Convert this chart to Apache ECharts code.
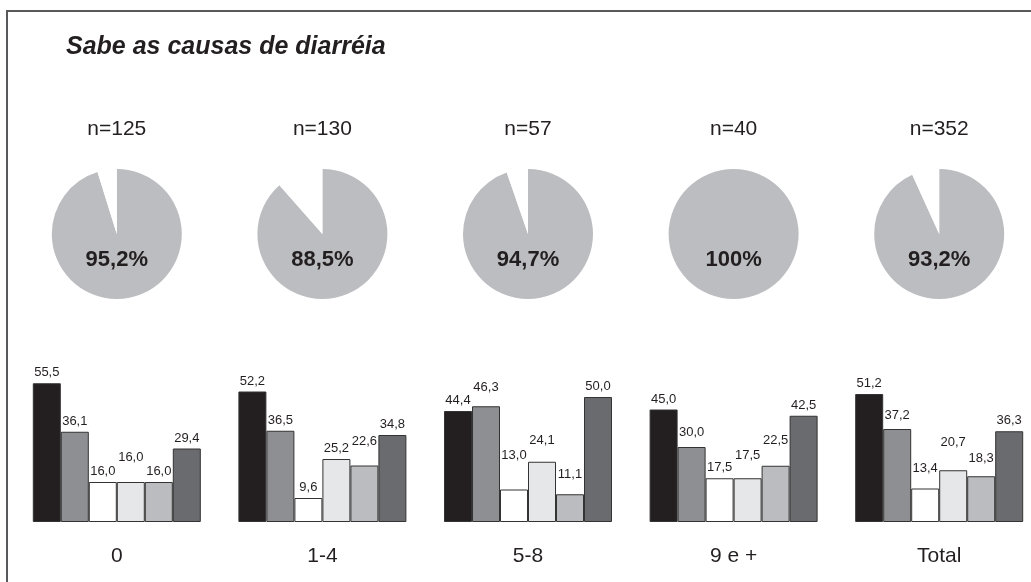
<!DOCTYPE html>
<html>
<head>
<meta charset="utf-8">
<script src="https://cdn.jsdelivr.net/npm/echarts@6/dist/echarts.min.js"></script>
<style>html,body{margin:0;padding:0;background:#fff;}#c{width:1031px;height:582px;}</style>
</head>
<body>
<div id="c"></div>
<script>
// ---- data ----
var titleText = 'Sabe as causas de diarréia';
var categories = ['0', '1-4', '5-8', '9 e +', 'Total'];
var nLabels = ['n=125', 'n=130', 'n=57', 'n=40', 'n=352'];
var piePercent = [95.2, 88.5, 94.7, 100, 93.2];
var s1 = [55.5, 52.2, 44.4, 45.0, 51.2];
var s2 = [36.1, 36.5, 46.3, 30.0, 37.2];
var s3 = [16.0, 9.6, 13.0, 17.5, 13.4];
var s4 = [16.0, 25.2, 24.1, 17.5, 20.7];
var s5 = [16.0, 22.6, 11.1, 22.5, 18.3];
var s6 = [29.4, 34.8, 50.0, 42.5, 36.3];

// ---- styling ----
var barColors = ['#231f20', '#8e8f92', '#ffffff', '#e6e7e8', '#bbbcbf', '#6a6b6e'];
var labelLift = [ // extra label lift per series (rows) and group (cols), px
  [0, 0, 0, 0, 0],
  [0, 0, 8, 4, 3],
  [0, 0, 24, 0, 10],
  [14, 0, 11, 12, 17],
  [0, 14, 9, 15, 7],
  [0, 0, 0, 0, 0]
];
var font = '"Liberation Sans", Arial, Helvetica, sans-serif';
var txt = '#231f20';

function fmtBar(v) { return v.toFixed(1).replace('.', ','); }
function fmtPie(v) { return Number.isInteger(v) ? String(v) : v.toFixed(1).replace('.', ','); }

var chart = echarts.init(document.getElementById('c'), null, {renderer: 'canvas'});
var gridLeft = 14, gridWidth = 1028;
var band = gridWidth / categories.length;

var seriesVals = [s1, s2, s3, s4, s5, s6];
var series = seriesVals.map(function (vals, si) {
  return {
    type: 'bar',
    barWidth: 28,
    barGap: '0%',
    data: vals.map(function (v, gi) {
      return {value: v, label: {distance: 4 + labelLift[si][gi]}};
    }),
    itemStyle: {color: barColors[si], borderColor: '#333333', borderWidth: 1},
    label: {
      show: true, position: 'top', color: txt, fontFamily: font, fontSize: 13,
      formatter: function (p) { return fmtBar(p.value); }
    },
    emphasis: {disabled: true},
    silent: true
  };
});

var graphics = [
  {type: 'line', shape: {x1: 7, y1: 11, x2: 1031, y2: 11}, style: {stroke: '#58595b', lineWidth: 2}},
  {type: 'line', shape: {x1: 7, y1: 10, x2: 7, y2: 582}, style: {stroke: '#58595b', lineWidth: 2}},
  {type: 'text', left: 66, top: 35, style: {text: titleText, font: 'italic bold 25px ' + font, fill: txt}}
];

piePercent.forEach(function (p, i) {
  var cx = gridLeft + band * (i + 0.5);
  series.push({
    type: 'pie',
    center: [cx, 234],
    radius: [0, 65],
    startAngle: 90,
    clockwise: true,
    silent: true,
    z: 1,
    label: {show: false},
    labelLine: {show: false},
    emphasis: {disabled: true},
    data: [
      {value: p, itemStyle: {color: '#bcbdc0'}},
      {value: Math.round((100 - p) * 10) / 10, itemStyle: {color: '#ffffff'}}
    ]
  });
  graphics.push({
    type: 'text', x: cx, y: 129, z: 100,
    style: {text: nLabels[i], font: '21px ' + font, fill: txt, textAlign: 'center', textVerticalAlign: 'middle'}
  });
  graphics.push({
    type: 'text', x: cx, y: 260, z: 100,
    style: {text: fmtPie(p) + '%', font: 'bold 22px ' + font, fill: txt, textAlign: 'center', textVerticalAlign: 'middle'}
  });
});

chart.setOption({
  animation: false,
  backgroundColor: '#ffffff',
  grid: {left: gridLeft, width: gridWidth, top: 372, height: 150, outerBoundsMode: 'none', containLabel: false},
  xAxis: {
    type: 'category', data: categories,
    axisLine: {show: false}, axisTick: {show: false},
    axisLabel: {color: txt, fontFamily: font, fontSize: 21, margin: 24}
  },
  yAxis: {type: 'value', min: 0, max: 60, show: false, splitLine: {show: false}},
  graphic: graphics,
  series: series
});
</script>
</body>
</html>
